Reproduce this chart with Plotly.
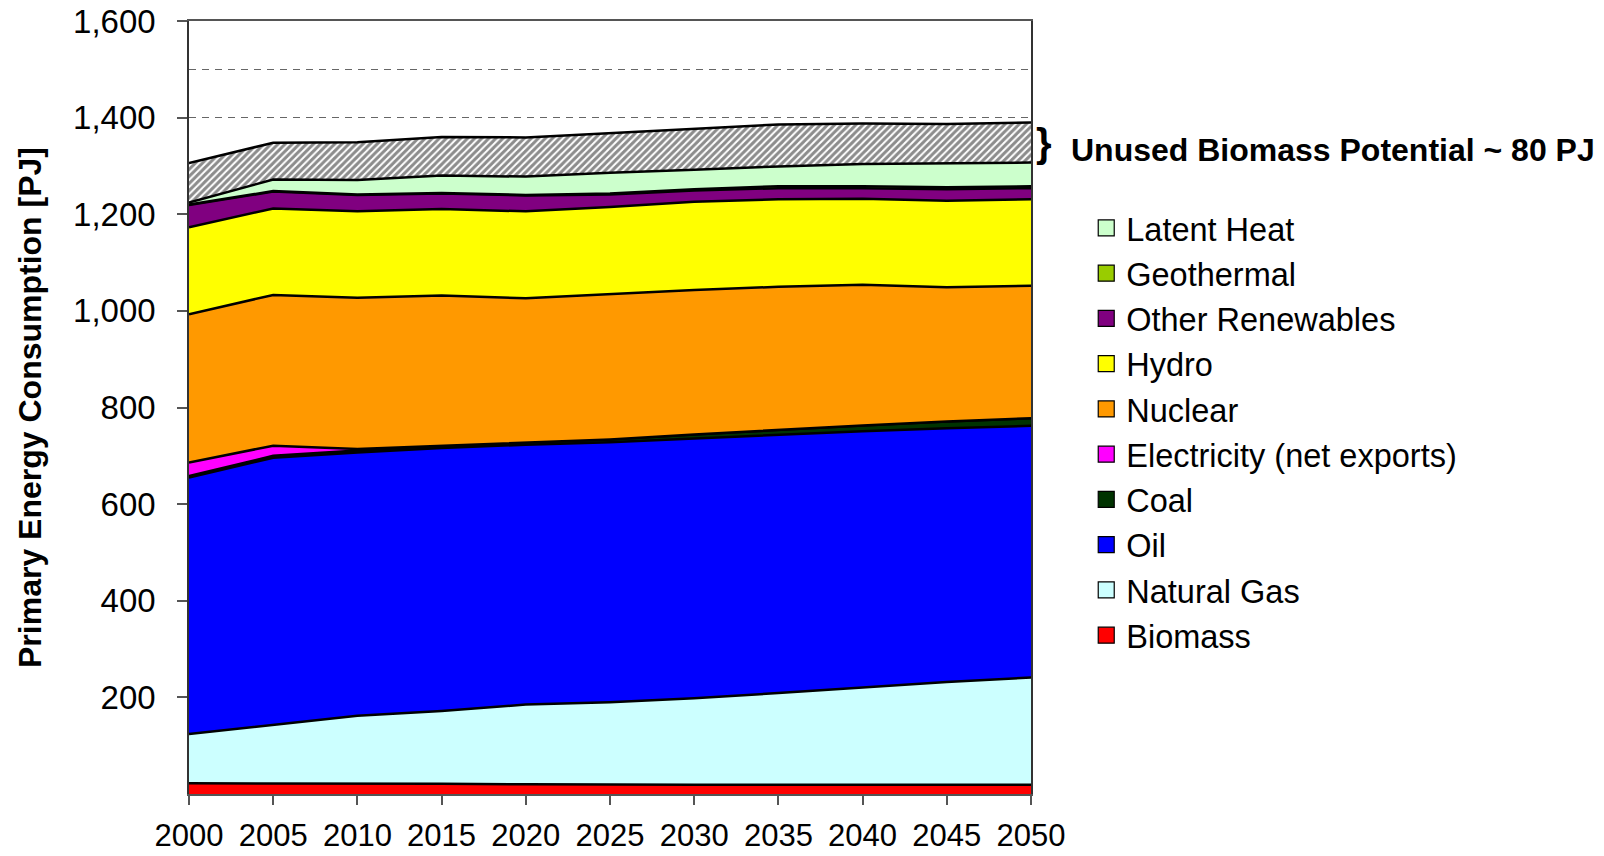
import plotly.graph_objects as go

years = [2000, 2005, 2010, 2015, 2020, 2025, 2030, 2035, 2040, 2045, 2050]

biomass = [22, 22, 21, 21, 20, 19, 19, 19, 19, 19, 19]
natural_gas = [102, 121, 141, 151, 165, 171, 179, 190, 202, 213, 222]
oil = [531, 553, 545, 544, 538, 538, 538, 535, 530, 525, 521]
coal = [3, 4, 4, 5, 5, 6, 8, 10, 12, 14, 16]
electricity = [28, 21, 3, 0, 0, 0, 0, 0, 0, 0, 0]
nuclear = [307, 312, 313, 311, 298, 301, 299, 296, 291, 278, 274]
hydro = [180, 179, 179, 179, 180, 180, 183, 181, 178, 179, 179]
other_renewables = [46, 35, 34, 32, 33, 26, 23, 23, 22, 24, 23]
geothermal = [1, 1, 1, 1, 1, 2, 3, 4, 4, 4, 4]
latent_heat = [4, 24, 30, 36, 38, 43, 40, 41, 46, 50, 49]
unused_biomass = [82, 76, 78, 80, 81, 82, 86, 87, 84, 81, 83]

series = [
    ("Biomass", biomass, "#FF0000"),
    ("Natural Gas", natural_gas, "#CCFFFF"),
    ("Oil", oil, "#0000FF"),
    ("Coal", coal, "#003300"),
    ("Electricity (net exports)", electricity, "#FF00FF"),
    ("Nuclear", nuclear, "#FF9900"),
    ("Hydro", hydro, "#FFFF00"),
    ("Other Renewables", other_renewables, "#800080"),
    ("Geothermal", geothermal, "#99CC00"),
    ("Latent Heat", latent_heat, "#CCFFCC"),
]

y_ticks = [200, 400, 600, 800, 1000, 1200, 1400, 1600]
y_tick_labels = ["200", "400", "600", "800", "1,000", "1,200", "1,400", "1,600"]
grid_vals = list(range(100, 1700, 100))

FONT = "Liberation Sans, Arial, sans-serif"

fig = go.Figure()
for name, vals, col in series:
    fig.add_trace(go.Scatter(
        x=years, y=vals, name=name, mode="lines", stackgroup="one",
        fillcolor=col, line=dict(color="black", width=2.5), showlegend=False,
        hoverinfo="x+y+name"))

fig.add_trace(go.Scatter(
    x=years, y=unused_biomass, name="Unused Biomass Potential", mode="lines",
    stackgroup="one", fillcolor="white",
    fillpattern=dict(shape="/", bgcolor="white", fgcolor="#1a1a1a", size=5, solidity=0.6),
    line=dict(color="black", width=2.5), showlegend=False))

for name, vals, col in reversed(series):
    fig.add_trace(go.Scatter(
        x=[None], y=[None], name=name, mode="markers",
        marker=dict(symbol="square", size=16, color=col, line=dict(color="black", width=1.2)),
        showlegend=True))

fig.add_annotation(x=1.0151, y=0.842, xref="paper", yref="paper", text="<b>}</b>",
                   showarrow=False, font=dict(family=FONT, size=40, color="black"),
                   xanchor="center", yanchor="middle")
fig.add_annotation(x=1.045, y=0.833, xref="paper", yref="paper",
                   text="<b>Unused Biomass Potential ~ 80 PJ</b>",
                   showarrow=False, font=dict(family=FONT, size=32, color="black"),
                   xanchor="left", yanchor="middle")

fig.update_layout(
    width=1604, height=856,
    margin=dict(l=189, r=573, t=21, b=62, autoexpand=False),
    paper_bgcolor="white", plot_bgcolor="white",
    font=dict(family=FONT, color="black"),
    legend=dict(x=1.0656, y=0.768, xanchor="left", yanchor="top",
                font=dict(family=FONT, size=32.5, color="black"),
                bgcolor="rgba(0,0,0,0)", traceorder="normal"),
    xaxis=dict(range=[2000, 2050], tickvals=years, ticks="outside", ticklen=9,
               tickcolor="#555555", tickwidth=1.5, automargin=False,
               showline=True, linecolor="#555555", linewidth=1.5, mirror=True,
               showgrid=False, zeroline=False,
               tickfont=dict(family=FONT, size=31, color="black"),
               ticklabelstandoff=4),
    yaxis=dict(range=[0, 1600], tickmode="array", tickvals=y_ticks, ticktext=y_tick_labels,
               ticks="outside", ticklen=10, tickcolor="#555555", tickwidth=1.5,
               automargin=False,
               showline=True, linecolor="#333333", linewidth=1.5, mirror=True,
               showgrid=False, zeroline=False,
               minor=dict(tickmode="array", tickvals=grid_vals,
                          showgrid=True, gridcolor="#666666", griddash="7px,6px",
                          gridwidth=1, ticks=""),
               tickfont=dict(family=FONT, size=33, color="black"),
               ticklabelstandoff=15,
               title=dict(text="<b>Primary Energy Consumption [PJ]</b>",
                          font=dict(family=FONT, size=32, color="black"), standoff=22)),
)

fig.write_html(
    "out.html",
    config={"displayModeBar": False},
    post_script="document.body.style.margin='0';document.body.style.padding='0';"
                "document.body.style.overflow='hidden';",
)
